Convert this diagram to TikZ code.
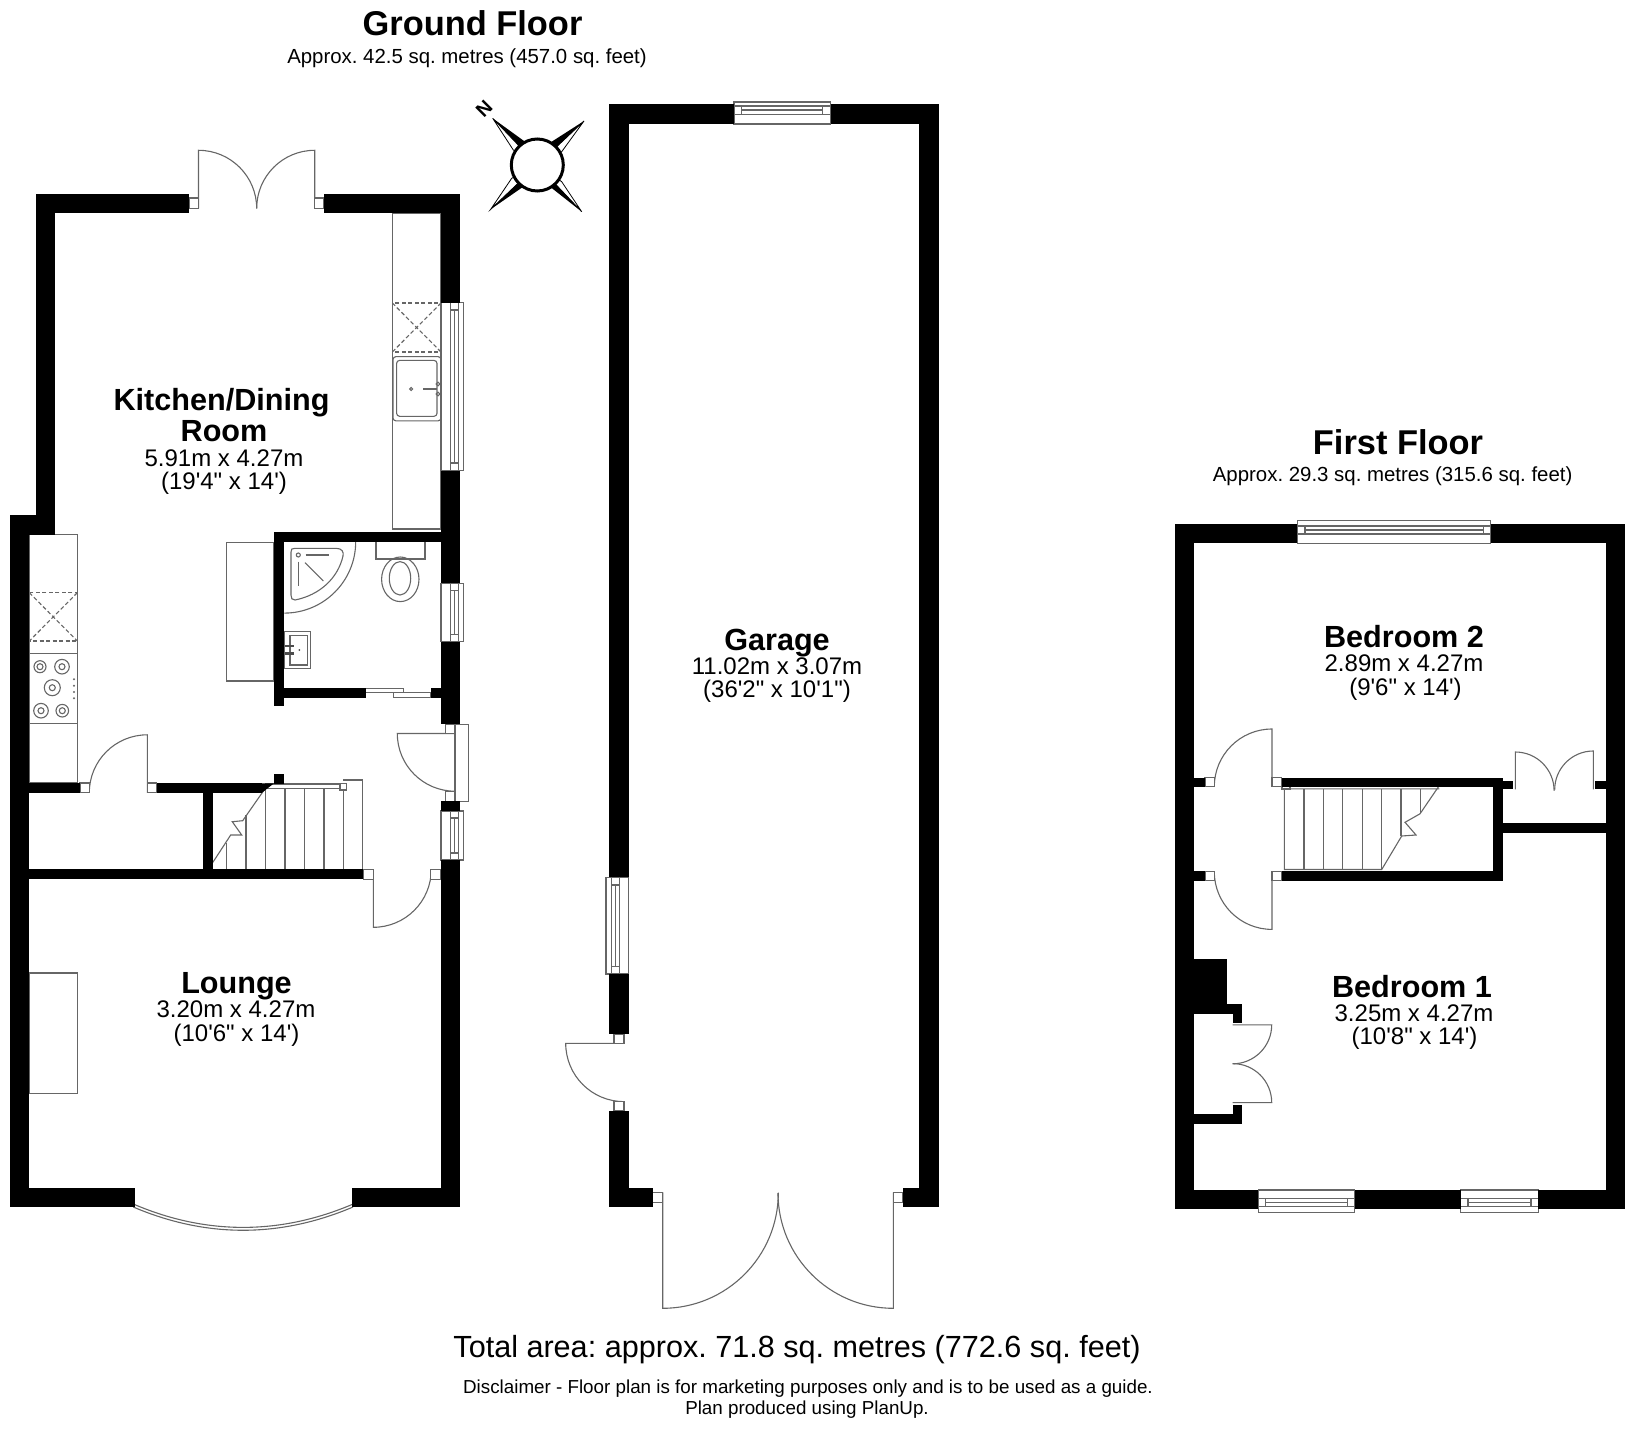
\documentclass[tikz,border=0pt]{standalone}
\usepackage{fontspec}
\newfontfamily\planfont{Liberation Sans}
\frenchspacing
\tikzset{
	wall/.style={fill=black},
	thin line/.style={draw=black!60,line width=1.1pt},
	frame/.style={draw=black!60,line width=1.1pt,fill=white},
	hidden line/.style={draw=black!60,line width=1.1pt,dashed,dash pattern=on 4pt off 2.5pt},
	floor title/.style={font=\planfont\bfseries\fontsize{34.4}{36}\selectfont,inner sep=0pt},
	floor area/.style={font=\planfont\fontsize{20.4}{22}\selectfont,inner sep=0pt},
	room name/.style={font=\planfont\bfseries\fontsize{30.6}{32}\selectfont,inner sep=0pt},
	room size/.style={font=\planfont\fontsize{24}{26}\selectfont,inner sep=0pt},
	spike/.style={fill=white,draw=black,line width=0.8pt},
}
\begin{document}
\begin{tikzpicture}[x=1pt,y=-1pt]
	\useasboundingbox (0,0) rectangle (1632,1431);
	% texts
	\node[floor title] (ground) at (472.5,23) {Ground Floor};
	\node[floor area] (groundarea) at (467,58) {Approx. 42.5 sq. metres (457.0 sq. feet)};
	\node[floor title] (first) at (1398,442) {First Floor};
	\node[floor area] (firstarea) at (1392.6,476) {Approx. 29.3 sq. metres (315.6 sq. feet)};
	\node[room name] (kitchen) at (221.5,403) {Kitchen/Dining};
	\node[room name] (kitchen2) at (224,431) {Room};
	\node[room size] (kitchensize) at (224,458) {5.91m x 4.27m};
	\node[room size] (kitchenfeet) at (224,483) {(19'4" x 14')};
	\node[room name] (lounge) at (236.5,986) {Lounge};
	\node[room size] (loungesize) at (236,1009.5) {3.20m x 4.27m};
	\node[room size] (loungefeet) at (236.5,1035) {(10'6" x 14')};
	\node[room name] (garage) at (777,643) {Garage};
	\node[room size] (garagesize) at (777,666) {11.02m x 3.07m};
	\node[room size] (garagefeet) at (777,691.5) {(36'2" x 10'1")};
	\node[room name] (bed2) at (1404,636.5) {Bedroom 2};
	\node[room size] (bed2size) at (1404,663) {2.89m x 4.27m};
	\node[room size] (bed2feet) at (1405.5,689) {(9'6" x 14')};
	\node[room name] (bed1) at (1412,986.5) {Bedroom 1};
	\node[room size] (bed1size) at (1414,1013) {3.25m x 4.27m};
	\node[room size] (bed1feet) at (1414.5,1038) {(10'8" x 14')};
	\node[font=\planfont\fontsize{30.6}{32}\selectfont,inner sep=0pt] (total) at (797,1350) {Total area: approx. 71.8 sq. metres (772.6 sq. feet)};
	\node[font=\planfont\fontsize{18.8}{20}\selectfont,inner sep=0pt] (disclaimer) at (808,1388.5) {Disclaimer - Floor plan is for marketing purposes only and is to be used as a guide.};
	\node[font=\planfont\fontsize{18.8}{20}\selectfont,inner sep=0pt] (produced) at (807,1410) {Plan produced using PlanUp.};
	% compass
	\coordinate (c) at (537.3,165);
	\draw[spike] (492.7,118.3) -- (513.3,150) -- (537.3,165) -- cycle;
	\draw[spike] (584,121) -- (561.7,151.7) -- (537.3,165) -- cycle;
	\draw[spike] (490.7,209.3) -- (511.7,178.3) -- (537.3,165) -- cycle;
	\draw[spike] (581.7,211.7) -- (561.7,181.7) -- (537.3,165) -- cycle;
	\fill (492.7,118.3) -- (525,141.7) -- (537.3,165) -- cycle;
	\fill (584,121) -- (551.7,141.7) -- (537.3,165) -- cycle;
	\fill (490.7,209.3) -- (523.3,186.7) -- (537.3,165) -- cycle;
	\fill (581.7,211.7) -- (550,186.7) -- (537.3,165) -- cycle;
	\node[draw=black,fill=white,circle,line width=3pt,minimum size=52pt,inner sep=0pt] (compass) at (c) {};
	\node[font=\planfont\bfseries\fontsize{19.5}{20}\selectfont,rotate=45,inner sep=0pt] (north) at (484,108.3) {N};
	% kitchen fittings
	\draw[thin line] (392.3,213.4) rectangle (441,529);
	\draw[hidden line] (392.3,303) rectangle (441,352);
	\draw[hidden line] (392.3,303) -- (441,352) (441,303) -- (392.3,352);
	\draw[thin line,rounded corners=3pt] (393,356.6) rectangle (441,420.9);
	\draw[thin line,rounded corners=3pt] (396.6,360.4) rectangle (437,416.3);
	\draw[thin line] (411.2,389) circle (1.5pt);
	\draw[thin line] (423,389) -- (437,389);
	\draw[thin line] (438,384) circle (1.8pt);
	\draw[thin line] (438,394) circle (1.8pt);
	\draw[thin line] (29.3,534.3) rectangle (77.3,782.7);
	\draw[hidden line] (29.3,592.7) rectangle (77.3,641);
	\draw[hidden line] (29.3,592.7) -- (77.3,641) (77.3,592.7) -- (29.3,641);
	\draw[thin line] (29.3,653.3) -- (77.3,653.3);
	\draw[thin line] (29.3,723.7) -- (77.3,723.7);
	\draw[thin line] (40,666.7) circle (6pt) circle (3pt);
	\draw[thin line] (62,666.7) circle (7.3pt) circle (3pt);
	\draw[thin line] (52.3,687.7) circle (8pt) circle (3pt);
	\draw[thin line] (41,710.7) circle (7.3pt) circle (3pt);
	\draw[thin line] (62.3,710.7) circle (6.3pt) circle (3pt);
	\fill[black!60] (74,679.3) circle (1.1pt);
	\fill[black!60] (74,685.7) circle (1.1pt);
	\fill[black!60] (74,692) circle (1.1pt);
	\fill[black!60] (74,698.3) circle (1.1pt);
	\draw[thin line] (226.2,542.5) rectangle (274,681);
	\draw[thin line] (29.3,973) rectangle (77.7,1093.6);
	% shower room fittings
	\draw[thin line] (355.7,541.7) arc (0:-90:71.4pt);
	\draw[thin line] (291,552) .. controls (291,549) and (292,548.3) .. (295,548.3) -- (336,548.3) .. controls (342,548.3) and (344,552) .. (343,556) .. controls (338,578) and (320,595) .. (295,600) .. controls (292,600.5) and (291,598) .. (291,595) -- cycle;
	\draw[thin line] (298.3,555) circle (2pt);
	\draw[thin line] (305.7,555) -- (329.3,555);
	\draw[thin line] (298.3,561.7) -- (298.3,586);
	\draw[thin line] (305,562.7) -- (323.3,581);
	\draw[thin line] (376,541.7) rectangle (425,559);
	\draw[thin line] (400.3,579.3) ellipse (18.7pt and 22.3pt);
	\draw[thin line] (400,578.3) ellipse (10.7pt and 16.7pt);
	\draw[thin line] (284.3,631.7) rectangle (310.7,668.3);
	\draw[thin line] (290,635.7) rectangle (307.3,665);
	\fill[black!70] (285,644.8) rectangle (294,647.2);
	\fill[black!70] (285,652.2) rectangle (294,654.6);
	\fill[black!70] (299.3,650) circle (1pt);
	% stairs ground floor
	\draw[thin line] (265,788.7) -- (242.7,820.7) -- (232.3,821.7) -- (241.7,835) -- (230.7,835) -- (208.3,869.3);
	\draw[thin line] (226.7,843.3) -- (226.7,869.3);
	\draw[thin line] (246,815) -- (246,869.3);
	\draw[thin line] (265.7,788.7) -- (265.7,869.3);
	\draw[thin line] (285,788.7) -- (285,869.3);
	\draw[thin line] (304.3,788.7) -- (304.3,869.3);
	\draw[thin line] (324,788.7) -- (324,869.3);
	\draw[thin line] (343.3,788.7) -- (343.3,869.3);
	\draw[thin line] (343.3,780) -- (362.7,780) -- (362.7,869.3);
	\draw[thin line] (266,784) rectangle (340,788.7);
	\draw[frame] (340,783.3) rectangle (346.7,790);
	% stairs first floor
	\draw[thin line] (1439.3,785.5) -- (1420,813.8) -- (1405,822.3) -- (1416,835) -- (1401.7,836) -- (1381.7,869.5) -- (1284.3,869.5) -- (1284.3,788.8) -- (1439.3,788.8);
	\draw[thin line] (1284,785.5) -- (1439.3,785.5);
	\draw[thin line] (1304,788.8) -- (1304,869.5);
	\draw[thin line] (1323.3,788.8) -- (1323.3,869.5);
	\draw[thin line] (1342.7,788.8) -- (1342.7,869.5);
	\draw[thin line] (1362.3,788.8) -- (1362.3,869.5);
	\draw[thin line] (1381.7,788.8) -- (1381.7,869.5);
	\draw[thin line] (1401,788.8) -- (1401,836);
	\draw[thin line] (1420.7,788.8) -- (1420.7,813);
	\draw[frame] (1282,783.5) rectangle (1290,789);
	% doors
	\draw[thin line] (198.5,208.5) -- (198.5,150.3) arc (90:0:58.2pt);
	\draw[thin line] (314.7,208.5) -- (314.7,150.3) arc (90:180:58pt);
	\draw[thin line] (147.3,792.8) -- (147.3,734.8) arc (90:180:58pt);
	\draw[thin line] (455,733.5) -- (397.3,733.5) arc (180:270:57.7pt);
	\draw[thin line] (373.3,869.3) -- (373.3,927.3) arc (270:360:58pt);
	\draw[thin line] (624,1043.3) -- (565.7,1043.3) arc (180:270:58.3pt);
	\draw[thin line] (662.7,1192.3) -- (662.7,1308.3) arc (270:360:115.6pt);
	\draw[thin line] (893.3,1192.3) -- (893.3,1308.3) arc (270:180:115.3pt);
	\draw[thin line] (1272,786.5) -- (1272,729) arc (90:180:57.7pt);
	\draw[thin line] (1272,871.4) -- (1272,929.4) arc (270:180:57.7pt);
	\draw[thin line] (1515.3,789.3) -- (1515.3,752) arc (90:0:38.8pt);
	\draw[thin line] (1593.3,789.3) -- (1593.3,751) arc (90:180:38.6pt);
	\draw[thin line] (1232.7,1024.8) -- (1271.7,1024.8) arc (0:-90:39pt);
	\draw[thin line] (1232.7,1102.6) -- (1271.7,1102.6) arc (0:90:39pt);
	\draw[frame] (365.7,688.3) rectangle (403.3,692.7);
	\draw[frame] (393.3,692.7) rectangle (431,697.7);
	\draw[frame] (455,724.4) rectangle (468.3,801.3);
	% door frames
	\draw[frame] (189,198) rectangle (198.5,208.5);
	\draw[frame] (314.7,198) rectangle (323.5,208.5);
	\draw[frame] (80,783) rectangle (89.3,792.8);
	\draw[frame] (147.3,783) rectangle (156.7,792.8);
	\draw[frame] (445.7,724.4) rectangle (455,733.5);
	\draw[frame] (445.7,791.2) rectangle (455,801.3);
	\draw[frame] (363.3,869.3) rectangle (373.3,879.3);
	\draw[frame] (430.7,869.3) rectangle (440.7,879.3);
	\draw[frame] (614,1034) rectangle (624,1043.3);
	\draw[frame] (614,1101.7) rectangle (624,1111);
	\draw[frame] (652.7,1192.3) rectangle (662.7,1202.3);
	\draw[frame] (893.3,1192.3) rectangle (903,1202.3);
	\draw[frame] (1205,777.5) rectangle (1214.3,786.5);
	\draw[frame] (1272,777.5) rectangle (1281.7,786.5);
	\draw[frame] (1205,871.4) rectangle (1214.3,880.8);
	\draw[frame] (1272,871.4) rectangle (1281.7,880.8);
	% windows
	\draw[frame] (441,302.6) rectangle (463.4,470.6);
	\draw[thin line] (450.3,302.6) rectangle (458.3,470.6);
	\draw[thin line] (454.3,310) -- (454.3,463);
	\draw[thin line] (450.3,310) -- (458.3,310) (450.3,463) -- (458.3,463);
	\draw[frame] (441,583.3) rectangle (463.4,641.7);
	\draw[thin line] (450.3,583.3) rectangle (458.3,641.7);
	\draw[thin line] (454.3,590.3) -- (454.3,634.7);
	\draw[thin line] (450.3,590.3) -- (458.3,590.3) (450.3,634.7) -- (458.3,634.7);
	\draw[frame] (441,811) rectangle (463.4,860);
	\draw[thin line] (450.3,811) rectangle (458.3,860);
	\draw[thin line] (454.3,818) -- (454.3,853);
	\draw[thin line] (450.3,818) -- (458.3,818) (450.3,853) -- (458.3,853);
	\draw[frame] (606,877.3) rectangle (628.7,974);
	\draw[thin line] (611.3,877.3) rectangle (619.3,974);
	\draw[thin line] (615.3,885) -- (615.3,966.5);
	\draw[thin line] (611.3,885) -- (619.3,885) (611.3,966.5) -- (619.3,966.5);
	\draw[frame] (734,102) rectangle (830.5,124);
	\draw[thin line] (734,106) rectangle (830.5,114.3);
	\draw[thin line] (741.7,110) -- (822.7,110);
	\draw[thin line] (741.7,106) -- (741.7,114.3) (822.7,106) -- (822.7,114.3);
	\draw[frame] (1297.3,520.8) rectangle (1490.7,543.4);
	\draw[thin line] (1297.3,526) rectangle (1490.7,534);
	\draw[thin line] (1305,530) -- (1483.3,530);
	\draw[thin line] (1305,526) -- (1305,534) (1483.3,526) -- (1483.3,534);
	\draw[frame] (1258.3,1190) rectangle (1354.7,1212.6);
	\draw[thin line] (1258.3,1198.5) rectangle (1354.7,1206.5);
	\draw[thin line] (1265.7,1202.5) -- (1347.3,1202.5);
	\draw[thin line] (1265.7,1198.5) -- (1265.7,1206.5) (1347.3,1198.5) -- (1347.3,1206.5);
	\draw[frame] (1460.7,1190) rectangle (1538.3,1212.6);
	\draw[thin line] (1460.7,1198.5) rectangle (1538.3,1206.5);
	\draw[thin line] (1468,1202.5) -- (1531,1202.5);
	\draw[thin line] (1468,1198.5) -- (1468,1206.5) (1531,1198.5) -- (1531,1206.5);
	% bay window
	\draw[thin line] (133.3,1207) .. controls (206,1238) and (280,1238) .. (353,1207);
	\draw[thin line] (134.5,1204.5) .. controls (206,1235) and (280,1235) .. (352,1204.5);
	% ground floor walls
	\fill[wall] (35.6,194) rectangle (189,213.4);
	\fill[wall] (323.5,194) rectangle (460,213.4);
	\fill[wall] (35.6,194) rectangle (54.6,534.5);
	\fill[wall] (9.9,515.4) rectangle (54.6,534.5);
	\fill[wall] (9.9,515.4) rectangle (29.3,1207);
	\fill[wall] (9.9,1187.6) rectangle (134.7,1207);
	\fill[wall] (352,1187.6) rectangle (460,1207);
	\fill[wall] (441,194) rectangle (460,302.6);
	\fill[wall] (441,470.6) rectangle (460,583.3);
	\fill[wall] (441,641.7) rectangle (460,724.4);
	\fill[wall] (441,801.3) rectangle (460,811);
	\fill[wall] (441,860) rectangle (460,1207);
	\fill[wall] (29.3,869.3) rectangle (363.3,879.3);
	\fill[wall] (29.3,783) rectangle (80,792.8);
	\fill[wall] (156.7,783.3) rectangle (262,792.7);
	\fill[wall] (262,783.3) -- (274,783.3) -- (262,792.7) -- cycle;
	\fill[wall] (274,774) rectangle (284.3,784);
	\fill[wall] (203.3,792.7) rectangle (213.3,870);
	\fill[wall] (274,531.7) rectangle (284.3,706);
	\fill[wall] (274,531.7) rectangle (441,541.7);
	\fill[wall] (284.3,688.3) rectangle (365.7,698.3);
	\fill[wall] (431,688.3) rectangle (441,698.3);
	% garage walls
	\fill[wall] (609,104) rectangle (734,124);
	\fill[wall] (830.5,104) rectangle (939,124);
	\fill[wall] (609,104) rectangle (628.7,877.3);
	\fill[wall] (609,974) rectangle (628.7,1034);
	\fill[wall] (609,1111) rectangle (628.7,1207);
	\fill[wall] (609,1187.7) rectangle (652.7,1207);
	\fill[wall] (903,1187.7) rectangle (939,1207);
	\fill[wall] (919.3,104) rectangle (939,1207);
	% first floor walls
	\fill[wall] (1174.7,523.7) rectangle (1297.3,543.4);
	\fill[wall] (1490.7,523.7) rectangle (1625,543.4);
	\fill[wall] (1174.7,523.7) rectangle (1194.3,1208.8);
	\fill[wall] (1605.7,523.7) rectangle (1625,1208.8);
	\fill[wall] (1174.7,1190) rectangle (1258.3,1208.8);
	\fill[wall] (1354.7,1190) rectangle (1460.7,1208.8);
	\fill[wall] (1538.3,1190) rectangle (1625,1208.8);
	\fill[wall] (1194.3,777.5) rectangle (1205,786.5);
	\fill[wall] (1194.3,871.4) rectangle (1205,880.8);
	\fill[wall] (1281.7,777.5) rectangle (1503,786.5);
	\fill[wall] (1281.7,871.4) rectangle (1503,880.8);
	\fill[wall] (1493.3,777.5) rectangle (1503,880.8);
	\fill[wall] (1503,780.8) rectangle (1513.3,789.3);
	\fill[wall] (1595,780.8) rectangle (1605.7,789.3);
	\fill[wall] (1503,822.8) rectangle (1605.7,832.7);
	\fill[wall] (1194.3,959.2) rectangle (1226.7,1004);
	\fill[wall] (1194.3,1004) rectangle (1242.3,1013.5);
	\fill[wall] (1232.7,1013.5) rectangle (1242.3,1023);
	\fill[wall] (1194.3,1114.4) rectangle (1242.3,1123.9);
	\fill[wall] (1232.7,1105) rectangle (1242.3,1114.4);
\end{tikzpicture}
\end{document}
